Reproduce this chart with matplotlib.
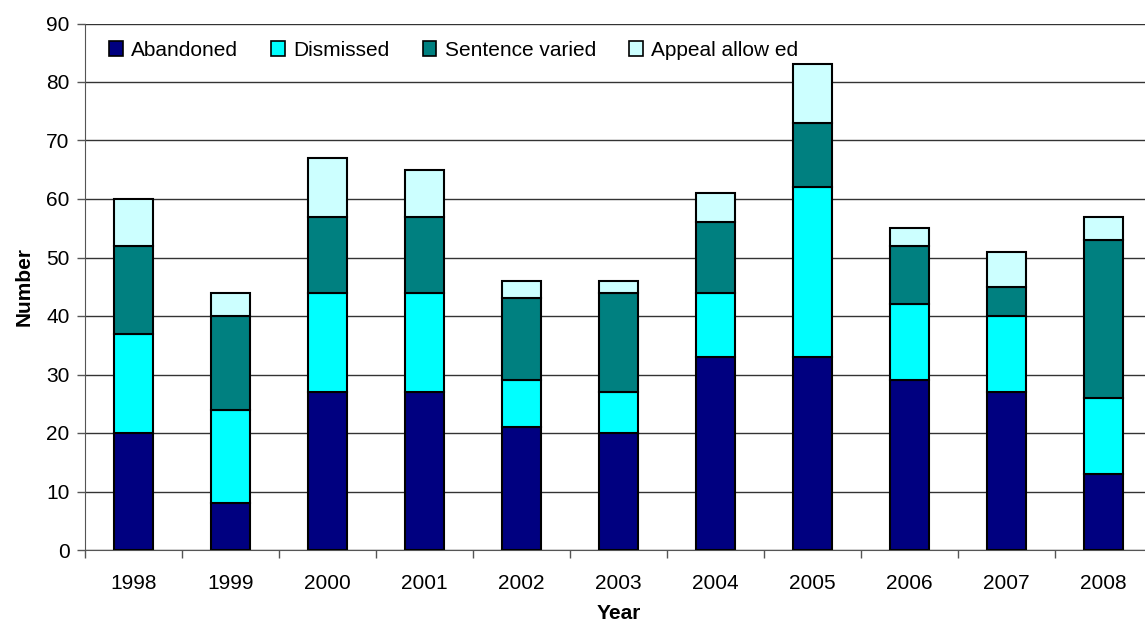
import numpy as np
import matplotlib
matplotlib.use("Agg")
import matplotlib.pyplot as plt
from matplotlib.patches import Patch

plt.rcParams['font.family'] = ['Liberation Sans', 'DejaVu Sans']

# Data
years = ['1998', '1999', '2000', '2001', '2002', '2003', '2004', '2005', '2006', '2007', '2008']
abandoned = [20, 8, 27, 27, 21, 20, 33, 33, 29, 27, 13]
dismissed = [17, 16, 17, 17, 8, 7, 11, 29, 13, 13, 13]
sentence_varied = [15, 16, 13, 13, 14, 17, 12, 11, 10, 5, 27]
appeal_allowed = [8, 4, 10, 8, 3, 2, 5, 10, 3, 6, 4]

series_names = ['Abandoned', 'Dismissed', 'Sentence varied', 'Appeal allow ed']
colors = ['#000080', '#00FFFF', '#008080', '#CCFFFF']

fig = plt.figure(figsize=(11.45, 6.26), dpi=100)
ax = fig.add_axes([85 / 1145, 1 - 550 / 626, 1067 / 1145, (550 - 23.5) / 626])

x = np.arange(len(years))
width = 0.41
bottom = np.zeros(len(years))
for vals, col in zip([abandoned, dismissed, sentence_varied, appeal_allowed], colors):
    ax.bar(x, vals, width, bottom=bottom, color=col, edgecolor='black', linewidth=1.5, zorder=3)
    bottom += np.array(vals)

ax.set_xlim(-0.5, len(years) - 0.5)
ax.set_ylim(0, 90)
ax.set_yticks(np.arange(0, 91, 10))
ax.yaxis.grid(True, color='#333333', linewidth=1, zorder=0)
ax.set_axisbelow(True)

ax.set_xticks(x)
ax.set_xticklabels(years)
ax.set_xticks(np.arange(-0.5, len(years)), minor=True)
ax.tick_params(axis='x', which='major', length=0, pad=17, labelsize=15)
ax.tick_params(axis='x', which='minor', length=6, width=1, color='#555555')
ax.tick_params(axis='y', length=6, width=1, color='#555555', labelsize=15, pad=5)

for side in ['top', 'right']:
    ax.spines[side].set_visible(False)
ax.spines['left'].set_color('#555555')
ax.spines['bottom'].set_color('#555555')

ax.set_xlabel('Year', fontsize=15, fontweight='bold', labelpad=8)
ax.set_ylabel('Number', fontsize=15, fontweight='bold', labelpad=9)

handles = [Patch(facecolor=c, edgecolor='black', linewidth=1.2) for c in colors]
ax.legend(handles, series_names, ncol=4, loc='upper left', bbox_to_anchor=(0.005, 1.003),
          frameon=False, fontsize=15, handlelength=0.65, handleheight=0.7,
          handletextpad=0.4, columnspacing=1.6)

fig.savefig('out.png', dpi=100)
